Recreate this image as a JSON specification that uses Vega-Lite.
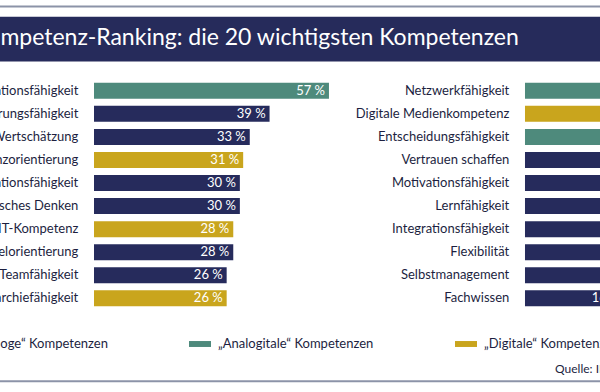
{
  "$schema": "https://vega.github.io/schema/vega-lite/v6.json",
  "width": 600,
  "height": 392,
  "autosize": {"type": "none"},
  "padding": 0,
  "background": "#ffffff",
  "config": {"view": {"stroke": null}, "font": "Lato"},
  "datasets": {
    "ranking": [
      {"Kompetenz": "Kommunikationsfähigkeit", "Wert": 57, "Anteil": "57 %", "Typ": "„Analogitale“ Kompetenzen", "Spalte": "links", "Rang": 1},
      {"Kompetenz": "Veränderungsfähigkeit", "Wert": 39, "Anteil": "39 %", "Typ": "„Analoge“ Kompetenzen", "Spalte": "links", "Rang": 2},
      {"Kompetenz": "Wertschätzung", "Wert": 33, "Anteil": "33 %", "Typ": "„Analoge“ Kompetenzen", "Spalte": "links", "Rang": 3},
      {"Kompetenz": "Transparenzorientierung", "Wert": 31, "Anteil": "31 %", "Typ": "„Digitale“ Kompetenzen", "Spalte": "links", "Rang": 4},
      {"Kompetenz": "Kooperationsfähigkeit", "Wert": 30, "Anteil": "30 %", "Typ": "„Analoge“ Kompetenzen", "Spalte": "links", "Rang": 5},
      {"Kompetenz": "Strategisches Denken", "Wert": 30, "Anteil": "30 %", "Typ": "„Analoge“ Kompetenzen", "Spalte": "links", "Rang": 6},
      {"Kompetenz": "IT-Kompetenz", "Wert": 28, "Anteil": "28 %", "Typ": "„Digitale“ Kompetenzen", "Spalte": "links", "Rang": 7},
      {"Kompetenz": "Zielorientierung", "Wert": 28, "Anteil": "28 %", "Typ": "„Analoge“ Kompetenzen", "Spalte": "links", "Rang": 8},
      {"Kompetenz": "Teamfähigkeit", "Wert": 26, "Anteil": "26 %", "Typ": "„Analoge“ Kompetenzen", "Spalte": "links", "Rang": 9},
      {"Kompetenz": "Hierarchiefähigkeit", "Wert": 26, "Anteil": "26 %", "Typ": "„Digitale“ Kompetenzen", "Spalte": "links", "Rang": 10},
      {"Kompetenz": "Netzwerkfähigkeit", "Wert": 25, "Anteil": "25 %", "Typ": "„Analogitale“ Kompetenzen", "Spalte": "rechts", "Rang": 1},
      {"Kompetenz": "Digitale Medienkompetenz", "Wert": 25, "Anteil": "25 %", "Typ": "„Digitale“ Kompetenzen", "Spalte": "rechts", "Rang": 2},
      {"Kompetenz": "Entscheidungsfähigkeit", "Wert": 24, "Anteil": "24 %", "Typ": "„Analogitale“ Kompetenzen", "Spalte": "rechts", "Rang": 3},
      {"Kompetenz": "Vertrauen schaffen", "Wert": 23, "Anteil": "23 %", "Typ": "„Analoge“ Kompetenzen", "Spalte": "rechts", "Rang": 4},
      {"Kompetenz": "Motivationsfähigkeit", "Wert": 22, "Anteil": "22 %", "Typ": "„Analoge“ Kompetenzen", "Spalte": "rechts", "Rang": 5},
      {"Kompetenz": "Lernfähigkeit", "Wert": 21, "Anteil": "21 %", "Typ": "„Analoge“ Kompetenzen", "Spalte": "rechts", "Rang": 6},
      {"Kompetenz": "Integrationsfähigkeit", "Wert": 21, "Anteil": "21 %", "Typ": "„Analoge“ Kompetenzen", "Spalte": "rechts", "Rang": 7},
      {"Kompetenz": "Flexibilität", "Wert": 20, "Anteil": "20 %", "Typ": "„Analoge“ Kompetenzen", "Spalte": "rechts", "Rang": 8},
      {"Kompetenz": "Selbstmanagement", "Wert": 19, "Anteil": "19 %", "Typ": "„Analoge“ Kompetenzen", "Spalte": "rechts", "Rang": 9},
      {"Kompetenz": "Fachwissen", "Wert": 16, "Anteil": "16 %", "Typ": "„Analoge“ Kompetenzen", "Spalte": "rechts", "Rang": 10}
    ]
  },
  "layer": [
    {
      "layer": [
        {
          "data": {"values": [{}]},
          "mark": {"type": "rule", "color": "#8c93a8", "strokeWidth": 2},
          "encoding": {"y": {"datum": -2.655, "type": "quantitative", "scale": {"domain": [-2.718, 13.843], "reverse": true, "nice": false, "zero": false}, "axis": null}}
        },
        {
          "data": {"values": [{}]},
          "mark": {"type": "rule", "color": "#8c93a8", "strokeWidth": 2},
          "encoding": {"y": {"datum": 13.589, "type": "quantitative"}}
        },
        {
          "data": {"values": [{}]},
          "mark": {"type": "rect", "color": "#262b5b"},
          "encoding": {
            "x": {"datum": -60, "type": "quantitative", "scale": {"domain": [-42.685, 139.13], "nice": false, "zero": false}, "axis": null},
            "x2": {"datum": 160},
            "y": {"datum": -2.211, "type": "quantitative"},
            "y2": {"datum": -0.268}
          }
        },
        {
          "data": {"values": [{}]},
          "mark": {"type": "text", "align": "left", "baseline": "middle", "fontSize": 23, "color": "#ffffff", "text": "Kompetenz-Ranking: die 20 wichtigsten Kompetenzen"},
          "encoding": {
            "x": {"datum": -50.87, "type": "quantitative"},
            "y": {"datum": -1.30, "type": "quantitative"}
          }
        },
        {
          "data": {"name": "ranking"},
          "transform": [{"filter": "datum.Spalte === 'links'"}],
          "mark": {"type": "bar", "orient": "horizontal", "height": 16},
          "encoding": {
            "x": {"field": "Wert", "type": "quantitative"},
            "x2": {"datum": -14.2},
            "y": {"field": "Rang", "type": "quantitative"},
            "color": {
              "field": "Typ",
              "type": "nominal",
              "scale": {"domain": ["„Analoge“ Kompetenzen", "„Analogitale“ Kompetenzen", "„Digitale“ Kompetenzen"], "range": ["#262b5c", "#4e8a7c", "#c9a51d"]},
              "legend": {
                "orient": "none", "legendX": -59, "legendY": 333, "direction": "horizontal", "title": null,
                "symbolType": "M-1,-0.27H1V0.27H-1Z", "symbolSize": 484, "symbolStrokeWidth": 0, "symbolOpacity": 1,
                "labelFontSize": 13, "labelFont": "Lato", "labelColor": "#1d1f3f", "labelOffset": 7, "columnPadding": 81, "labelLimit": 300
              }
            }
          }
        },
        {
          "data": {"name": "ranking"},
          "transform": [{"filter": "datum.Spalte === 'links'"}],
          "mark": {"type": "text", "align": "right", "baseline": "middle", "fontSize": 13, "color": "#1d1f3f"},
          "encoding": {
            "x": {"datum": -18.96, "type": "quantitative"},
            "y": {"field": "Rang", "type": "quantitative"},
            "text": {"field": "Kompetenz"}
          }
        },
        {
          "data": {"name": "ranking"},
          "transform": [{"filter": "datum.Spalte === 'links'"}],
          "mark": {"type": "text", "align": "right", "baseline": "middle", "fontSize": 13, "color": "#ffffff", "dx": -4},
          "encoding": {
            "x": {"field": "Wert", "type": "quantitative"},
            "y": {"field": "Rang", "type": "quantitative"},
            "text": {"field": "Anteil"}
          }
        },
        {
          "data": {"values": [{}]},
          "mark": {"type": "text", "align": "left", "baseline": "middle", "fontSize": 12, "color": "#1d1f3f", "text": "Quelle: IFIDZ"},
          "encoding": {
            "x": {"datum": 125.5, "type": "quantitative"},
            "y": {"datum": 13.05, "type": "quantitative"}
          }
        }
      ]
    },
    {
      "data": {"name": "ranking"},
      "transform": [{"filter": "datum.Spalte === 'rechts'"}],
      "layer": [
        {
          "mark": {"type": "bar", "orient": "horizontal", "height": 16},
          "encoding": {
            "x": {"field": "Wert", "type": "quantitative", "scale": {"domain": [-173.29, 8.53], "nice": false, "zero": false}, "axis": null},
            "x2": {"datum": -14.2},
            "y": {"field": "Rang", "type": "quantitative"},
            "color": {"field": "Typ", "type": "nominal"}
          }
        },
        {
          "mark": {"type": "text", "align": "right", "baseline": "middle", "fontSize": 13, "color": "#1d1f3f"},
          "encoding": {
            "x": {"datum": -18.96, "type": "quantitative"},
            "y": {"field": "Rang", "type": "quantitative"},
            "text": {"field": "Kompetenz"}
          }
        },
        {
          "mark": {"type": "text", "align": "right", "baseline": "middle", "fontSize": 13, "color": "#ffffff", "dx": -4},
          "encoding": {
            "x": {"field": "Wert", "type": "quantitative"},
            "y": {"field": "Rang", "type": "quantitative"},
            "text": {"field": "Anteil"}
          }
        }
      ]
    }
  ],
  "resolve": {"scale": {"x": "independent"}}
}
